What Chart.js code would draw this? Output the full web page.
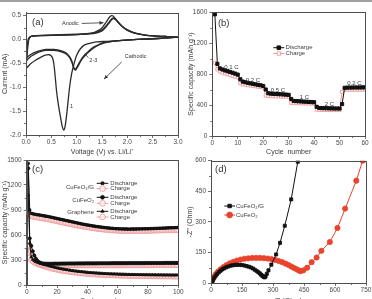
<!DOCTYPE html>
<html><head><meta charset="utf-8">
<script src="https://cdn.jsdelivr.net/npm/chart.js@4.4.1/dist/chart.umd.min.js"></script>
<style>
html,body{margin:0;padding:0;background:#fff;}
body{position:relative;width:372px;height:299px;overflow:hidden;}
canvas{position:absolute;}
#topbar{position:absolute;left:0;top:0;width:372px;height:2px;background:#a0a0a0;}
</style></head>
<body>
<div id="topbar"></div>
<canvas id="pa" width="186" height="160" style="left:0;top:0;width:186px;height:160px"></canvas>
<canvas id="pb" width="186" height="160" style="left:186px;top:0;width:186px;height:160px"></canvas>
<canvas id="pc" width="186" height="160" style="left:0;top:150px;width:186px;height:160px"></canvas>
<canvas id="pd" width="186" height="160" style="left:186px;top:150px;width:186px;height:160px"></canvas>
<script>
// ---------- Panel (a): cyclic voltammetry ----------
const aXTicks = [0.0,0.5,1.0,1.5,2.0,2.5,3.0];
const aYTicks = [-2.0,-1.5,-1.0,-0.5,0.0,0.5];
const cv1V = [3.0,2.6,2.2,1.9,1.6,1.4,1.3,1.15,1.07,1.0,0.95,0.9,0.86,0.83,0.8,0.77,0.745,0.72,0.69,0.66,0.63,0.605,0.58,0.56,0.54,0.51,0.46,0.38,0.28,0.18,0.09,0.0,0.015,0.03,0.05,0.08,0.12,0.2,0.4,0.7,1.0,1.2,1.35,1.45,1.52,1.58,1.63,1.66,1.69,1.72,1.76,1.82,1.9,2.0,2.15,2.35,2.6,2.8,3.0];
const cv1I = [0.05,0.02,0.0,-0.02,-0.04,-0.05,-0.07,-0.12,-0.2,-0.33,-0.5,-0.72,-1.0,-1.3,-1.6,-1.83,-1.9,-1.84,-1.68,-1.5,-1.3,-1.1,-0.82,-0.6,-0.45,-0.36,-0.32,-0.33,-0.38,-0.44,-0.51,-0.6,-0.42,-0.22,-0.03,0.05,0.07,0.08,0.09,0.1,0.11,0.12,0.15,0.2,0.27,0.36,0.44,0.48,0.5,0.49,0.44,0.36,0.27,0.19,0.13,0.09,0.07,0.06,0.05];
const cv23V = [3.0,2.6,2.2,1.9,1.7,1.55,1.45,1.35,1.25,1.17,1.1,1.05,1.01,0.98,0.955,0.93,0.9,0.86,0.8,0.7,0.55,0.4,0.3,0.2,0.1,0.0,0.015,0.03,0.05,0.08,0.12,0.3,0.7,1.0,1.25,1.4,1.5,1.57,1.63,1.68,1.72,1.76,1.82,1.9,2.0,2.15,2.35,2.6,2.8,3.0];
const cv2I = [0.05,0.02,0.0,-0.02,-0.04,-0.07,-0.11,-0.17,-0.25,-0.33,-0.42,-0.51,-0.59,-0.64,-0.63,-0.56,-0.46,-0.38,-0.31,-0.26,-0.23,-0.23,-0.25,-0.29,-0.35,-0.44,-0.3,-0.12,0.01,0.05,0.07,0.08,0.09,0.1,0.12,0.15,0.2,0.27,0.35,0.42,0.45,0.43,0.36,0.27,0.2,0.13,0.09,0.07,0.06,0.05];
const cv3I = [0.05,0.02,0.0,-0.02,-0.04,-0.06,-0.1,-0.15,-0.23,-0.31,-0.4,-0.49,-0.57,-0.62,-0.61,-0.54,-0.44,-0.36,-0.29,-0.24,-0.21,-0.21,-0.23,-0.26,-0.31,-0.38,-0.26,-0.1,0.02,0.05,0.07,0.08,0.09,0.1,0.115,0.14,0.18,0.25,0.33,0.4,0.435,0.425,0.36,0.27,0.2,0.13,0.09,0.07,0.06,0.05];

// ---------- Panel (b): rate capability ----------
const bXTicks = [0,10,20,30,40,50,60];
const bYTicks = [0,400,800,1200,1600];
const bDischarge = [1570,930,872,858,846,836,826,816,805,792,
  732,702,694,686,679,672,666,660,654,646,
  600,552,547,544,542,540,538,536,534,531,
  478,452,450,448,446,444,442,440,438,436,
  377,362,360,359,358,357,356,355,355,354,
  412,622,624,625,625,626,626,626,627,627];
const bCharge = [945,860,832,818,806,796,786,776,766,755,
  680,668,662,656,651,646,641,636,631,626,
  522,516,514,513,512,511,510,509,508,507,
  428,425,424,423,422,421,420,419,419,418,
  340,338,337,337,336,336,335,335,335,335,
  570,596,597,597,598,598,598,599,599,599];

// ---------- Panel (c): cycling of three electrodes ----------
const cXTicks = [0,20,40,60,80,100];
const cYTicks = [0,300,600,900,1200,1500];
const gDis = [1460,900,860,855,850,847,844,841,838,835,
  832,828,825,822,818,814,810,806,802,798,
  794,790,786,782,778,774,770,766,762,758,
  754,750,746,742,738,734,730,727,723,720,
  717,714,711,708,705,702,700,697,695,692,
  690,688,686,684,682,680,679,677,676,675,
  674,673,673,672,672,672,671,671,672,672,
  672,672,673,673,673,674,674,675,675,676,
  676,677,677,678,679,679,680,681,682,683,
  683,684,685,686,687,687,688,689,689,690];
const gChg = [870,845,825,820,816,813,810,807,804,801,
  798,795,792,789,785,781,777,773,769,765,
  761,757,753,749,745,741,738,734,730,727,
  723,719,716,712,709,706,702,699,696,693,
  690,687,684,681,679,676,674,672,669,667,
  665,663,661,660,658,657,655,654,653,652,
  651,650,650,649,649,648,648,648,648,648,
  648,648,648,649,649,649,650,650,650,651,
  651,652,652,653,653,654,654,655,655,656,
  656,657,657,658,658,659,659,660,660,661];
const fDis = [1400,560,470,405,355,318,292,276,266,260,
  257,256,255,255,255,255,255,256,256,256,
  256,256,257,257,257,257,258,258,258,258,
  258,258,259,259,259,259,259,259,260,260,
  260,260,260,260,260,260,261,261,261,261,
  261,261,261,261,261,262,262,262,262,262,
  262,262,262,262,262,262,263,263,263,263,
  263,263,263,263,263,263,263,263,264,264,
  264,264,264,264,264,264,264,264,264,264,
  265,265,265,265,265,265,265,265,265,265];
const fChg = [530,470,405,355,318,292,272,258,250,245,
  242,240,239,238,238,237,237,237,237,237,
  237,237,237,237,236,236,236,236,236,236,
  236,236,236,236,236,236,236,236,236,236,
  236,236,236,236,236,236,236,236,236,236,
  236,236,236,236,236,236,236,236,236,236,
  236,236,236,236,237,237,237,237,237,237,
  237,237,237,237,237,237,237,237,237,237,
  237,237,237,237,238,238,238,238,238,238,
  238,238,238,238,238,238,238,238,238,238];
const rDis = [1080,500,335,305,290,280,272,265,259,254,
  249,244,239,234,229,224,219,214,209,205,
  201,197,193,190,187,184,181,178,175,172,
  169,167,165,163,161,159,157,155,153,151,
  149,148,146,145,144,142,141,140,139,138,
  137,136,135,134,133,132,131,131,130,129,
  129,128,128,127,127,126,126,125,125,125,
  124,124,124,123,123,123,122,122,122,122,
  121,121,121,121,120,120,120,120,120,119,
  119,119,119,119,118,118,118,118,118,118];
const rChg = [470,330,300,282,270,261,253,246,240,234,
  228,222,216,211,206,201,196,192,188,184,
  180,176,173,170,167,164,161,158,156,153,
  151,149,147,145,143,141,139,137,136,134,
  133,131,130,129,127,126,125,124,123,122,
  121,120,119,118,118,117,116,115,115,114,
  113,113,112,112,111,111,110,110,109,109,
  109,108,108,108,107,107,107,106,106,106,
  106,105,105,105,105,104,104,104,104,104,
  103,103,103,103,103,102,102,102,102,102];

// ---------- Panel (d): Nyquist plots ----------
const dXTicks = [0,150,300,450,600,750];
const dYTicks = [0,150,300,450,600];
const gZre = [5,10,16,23,30,38,46,55,64,74,84,95,106,117,128,139,150,161,172,183,193,203,212,221,229,236,242,248,253,257,260,264,270,278,292,315,334,357,388,420];
const gZim = [3,15,26,36,45,53,60,67,72,77,81,85,87,89,89,89,88,86,83,80,76,71,65,59,53,47,41,36,32,29,28,32,45,62,90,140,197,281,410,595];
const fZre = [3,8,15,24,34,46,60,75,91,108,125,143,161,180,199,218,237,256,275,293,311,328,345,361,376,390,403,415,425,433,447,465,487,511,534,575,612,649,703,734];
const fZim = [5,18,31,44,56,67,78,88,97,104,110,115,119,121,123,123,123,122,120,117,113,108,102,95,88,80,73,67,62,58,62,75,102,125,158,201,270,365,502,600];

// ---------- styling ----------
const FF = '"Liberation Sans", Arial, sans-serif';
const TX = '#3c3c3c', AX = '#4f4f4f';
const PINK = '#ef9b9b', RED = '#e8432c', BLK = '#111111';

const xy = (xs, ys) => xs.map((x, i) => ({x: x, y: ys[i]}));
const cyc = arr => arr.map((v, i) => ({x: i + 1, y: v}));

const framePlugin = {
  id: 'frame',
  afterDraw(chart) {
    const {ctx, chartArea: a} = chart;
    ctx.save();
    ctx.strokeStyle = AX; ctx.lineWidth = 1;
    ctx.strokeRect(Math.round(a.left) + 0.5, Math.round(a.top) + 0.5, Math.round(a.right) - Math.round(a.left), Math.round(a.bottom) - Math.round(a.top));
    const xs = chart.scales.x, ys = chart.scales.y;
    ctx.lineWidth = 0.8;
    const xt = xs.ticks.map(t => t.value), yt = ys.ticks.map(t => t.value);
    ctx.beginPath();
    for (let i = 0; i < xt.length - 1; i++) {
      const p = Math.round(xs.getPixelForValue((xt[i] + xt[i + 1]) / 2)) + 0.5;
      ctx.moveTo(p, a.bottom); ctx.lineTo(p, a.bottom + 2);
    }
    for (let i = 0; i < yt.length - 1; i++) {
      const p = Math.round(ys.getPixelForValue((yt[i] + yt[i + 1]) / 2)) + 0.5;
      ctx.moveTo(a.left, p); ctx.lineTo(a.left - 2, p);
    }
    ctx.stroke();
    ctx.restore();
  }
};

const notesPlugin = {
  id: 'notes',
  afterDraw(chart, args, o) {
    const ctx = chart.ctx, xs = chart.scales.x, ys = chart.scales.y;
    ctx.save();
    ctx.strokeStyle = '#333'; ctx.fillStyle = '#333'; ctx.lineWidth = 0.8;
    (o.arrows || []).forEach(a => {
      const x1 = xs.getPixelForValue(a[0]), y1 = ys.getPixelForValue(a[1]);
      const x2 = xs.getPixelForValue(a[2]), y2 = ys.getPixelForValue(a[3]);
      ctx.beginPath(); ctx.moveTo(x1, y1); ctx.lineTo(x2, y2); ctx.stroke();
      if (a[4]) {
        const ang = Math.atan2(y2 - y1, x2 - x1), L = 4, W = 1.8;
        ctx.beginPath();
        ctx.moveTo(x2, y2);
        ctx.lineTo(x2 - L * Math.cos(ang) + W * Math.sin(ang), y2 - L * Math.sin(ang) - W * Math.cos(ang));
        ctx.lineTo(x2 - L * Math.cos(ang) - W * Math.sin(ang), y2 - L * Math.sin(ang) + W * Math.cos(ang));
        ctx.closePath(); ctx.fill();
      }
    });
    (o.items || []).forEach(t => {
      ctx.font = (t.s || 6) + 'px ' + FF;
      ctx.fillStyle = t.c || '#333';
      ctx.textAlign = 'left'; ctx.textBaseline = 'middle';
      ctx.fillText(t.t, xs.getPixelForValue(t.x), ys.getPixelForValue(t.y));
    });
    ctx.restore();
  }
};

const legPlugin = {
  id: 'leg',
  afterDraw(chart, args, o) {
    if (!o.rows) return;
    const ctx = chart.ctx;
    ctx.save();
    o.rows.forEach(r => {
      const ds = chart.data.datasets[r.ds];
      ctx.strokeStyle = ds.borderColor; ctx.lineWidth = ds.borderWidth || 1;
      ctx.beginPath(); ctx.moveTo(o.x1, r.y); ctx.lineTo(o.x2, r.y); ctx.stroke();
      ctx.fillStyle = ds.pointBackgroundColor; ctx.strokeStyle = ds.pointBorderColor;
      ctx.lineWidth = ds.pointBorderWidth || 1;
      Chart.helpers.drawPoint(ctx, {pointStyle: ds.pointStyle, rotation: 0, radius: ds.pointRadius + 0.3, borderWidth: ds.pointBorderWidth || 1}, (o.x1 + o.x2) / 2, r.y);
      ctx.font = (o.size || 6) + 'px ' + FF;
      ctx.fillStyle = TX; ctx.textAlign = 'left'; ctx.textBaseline = 'middle';
      ctx.fillText(ds.label, o.tx, r.y);
    });
    (o.groups || []).forEach(g => {
      ctx.font = (o.size || 6) + 'px ' + FF;
      ctx.fillStyle = TX; ctx.textAlign = 'right'; ctx.textBaseline = 'middle';
      ctx.fillText(g.t, g.x, g.y);
    });
    ctx.restore();
  }
};

function axis(kind, g, min, max, ticks, fmt, title, tpad) {
  const s = {
    type: 'linear', min: min, max: max, offset: false,
    afterBuildTicks: sc => { sc.ticks = ticks.map(v => ({value: v})); },
    grid: {drawOnChartArea: false, drawTicks: true, tickLength: 3, color: AX, lineWidth: 0.8},
    border: {display: true, color: AX, width: 1},
    ticks: {font: {family: FF, size: 6.5}, color: '#4a4a4a', maxRotation: 0, autoSkip: false, callback: fmt},
    title: {display: true, text: title, font: {family: FF, size: 7}, color: TX}
  };
  if (kind === 'x') {
    s.afterFit = sc => { sc.height = g.ch - g.B; };
    s.ticks.padding = 0;
    s.title.padding = {top: 0, bottom: tpad};
  } else {
    s.afterFit = sc => { sc.width = g.L; };
    s.ticks.padding = 2;
    s.title.padding = {top: tpad, bottom: 0};
  }
  return s;
}

function make(id, g, datasets, scales, plugins) {
  return new Chart(document.getElementById(id), {
    type: 'scatter',
    data: {datasets: datasets},
    options: {
      responsive: false, animation: false, events: [],
      layout: {padding: {left: 0, top: g.T, right: g.cw - g.R, bottom: 0}},
      scales: scales,
      plugins: Object.assign({legend: {display: false}, tooltip: {enabled: false}}, plugins)
    },
    plugins: [framePlugin, notesPlugin, legPlugin]
  });
}

const f1 = v => v.toFixed(1);
const f0 = v => String(v);

// ---- (a)
const ga = {cw: 186, ch: 160, L: 26, R: 178, T: 12.7, B: 135};
const cvStyle = {showLine: true, pointRadius: 0, borderColor: '#2b2b2b', borderWidth: 1.3, tension: 0.25, fill: false};
make('pa', ga, [
  Object.assign({label: '1', data: xy(cv1V, cv1I)}, cvStyle),
  Object.assign({label: '2', data: xy(cv23V, cv2I)}, cvStyle),
  Object.assign({label: '3', data: xy(cv23V, cv3I)}, cvStyle)
], {
  x: axis('x', ga, 0, 3, aXTicks, f1, 'Voltage (V) vs. Li/Li\u207A', 3.8),
  y: axis('y', ga, -2, 0.56, aYTicks, f1, 'Current (mA)', 0.8)
}, {
  notes: {
    items: [
      {t: '(a)', x: 0.12, y: 0.35, s: 9.5},
      {t: 'Anodic', x: 0.71, y: 0.33, s: 5.5},
      {t: 'Cathodic', x: 1.95, y: -0.35, s: 5.5},
      {t: '2-3', x: 1.25, y: -0.45, s: 5.5},
      {t: '1', x: 0.87, y: -1.41, s: 5.5}
    ],
    arrows: [[1.1, 0.335, 1.53, 0.35, true], [1.89, -0.47, 1.54, -0.83, true], [1.23, -0.38, 1.16, -0.30, false]]
  }
});

// ---- (b)
const gb = {cw: 186, ch: 160, L: 26.3, R: 179, T: 12, B: 136};
make('pb', gb, [
  {label: 'Discharge', data: cyc(bDischarge), showLine: true, borderColor: BLK, borderWidth: 1, pointStyle: 'rect', pointRadius: 2.2, pointBackgroundColor: BLK, pointBorderColor: BLK, pointBorderWidth: 1, order: 0},
  {label: 'Charge', data: cyc(bCharge), showLine: true, borderColor: PINK, borderWidth: 1, pointStyle: 'rect', pointRadius: 2.2, pointBackgroundColor: '#ffffff', pointBorderColor: PINK, pointBorderWidth: 0.9, order: 1}
], {
  x: axis('x', gb, 0, 60, bXTicks, f0, 'Cycle  number', 3.8),
  y: axis('y', gb, 0, 1600, bYTicks, f0, 'Specific capacity (mAh g\u207B\u00B9)', 0.8)
}, {
  notes: {items: [
    {t: '(b)', x: 2.2, y: 1458, s: 9.5},
    {t: '0.1 C', x: 4.7, y: 892, s: 6},
    {t: '0.2 C', x: 13.1, y: 721, s: 6},
    {t: '0.5 C', x: 23, y: 592, s: 6},
    {t: '1 C', x: 34.4, y: 498, s: 6},
    {t: '2 C', x: 44.2, y: 412, s: 6},
    {t: '0.2 C', x: 53, y: 678, s: 6}
  ]},
  leg: {x1: 87.3, x2: 98.3, tx: 99.5, size: 6, rows: [{ds: 0, y: 47.7}, {ds: 1, y: 53.5}]}
});

// ---- (c)
const gc = {cw: 186, ch: 160, L: 26.7, R: 178.3, T: 10, B: 135};
const disStyle = (st) => ({showLine: true, borderColor: BLK, borderWidth: 1, pointStyle: st, pointRadius: 1.6, pointBackgroundColor: BLK, pointBorderColor: BLK, pointBorderWidth: 0.8, order: 0});
const chgStyle = {showLine: true, borderColor: PINK, borderWidth: 1, pointStyle: 'circle', pointRadius: 2.5, pointBackgroundColor: 'rgba(255,255,255,0.6)', pointBorderColor: PINK, pointBorderWidth: 0.9, order: 1};
make('pc', gc, [
  Object.assign({label: 'Discharge', data: cyc(gDis)}, disStyle('rect')),
  Object.assign({label: 'Charge', data: cyc(gChg)}, chgStyle),
  Object.assign({label: 'Discharge', data: cyc(fDis)}, disStyle('circle')),
  Object.assign({label: 'Charge', data: cyc(fChg)}, chgStyle),
  Object.assign({label: 'Discharge', data: cyc(rDis)}, disStyle('triangle')),
  Object.assign({label: 'Charge', data: cyc(rChg)}, chgStyle)
], {
  x: axis('x', gc, 0, 100, cXTicks, f0, 'Cycle  number', 4.8),
  y: axis('y', gc, 0, 1500, cYTicks, f0, 'Specific capacity (mAh g\u207B\u00B9)', 0.8)
}, {
  notes: {items: [{t: '(c)', x: 3.5, y: 1392, s: 9.5}]},
  leg: {x1: 96.7, x2: 108.3, tx: 110.3, size: 6,
    rows: [{ds: 0, y: 33.3}, {ds: 1, y: 38.6}, {ds: 2, y: 47.3}, {ds: 3, y: 53.3}, {ds: 4, y: 61.3}, {ds: 5, y: 67}],
    groups: [{t: 'CuFeO\u2082/G', x: 94, y: 37}, {t: 'CuFeO\u2082', x: 94, y: 50}, {t: 'Graphene', x: 94, y: 62}]}
});

// ---- (d)
const gd = {cw: 186, ch: 160, L: 25, R: 180, T: 10.7, B: 133};
make('pd', gd, [
  {label: 'CuFeO\u2082/G', data: xy(gZre, gZim), showLine: true, borderColor: BLK, borderWidth: 1, pointStyle: 'rect', pointRadius: 2.2, pointBackgroundColor: BLK, pointBorderColor: BLK, pointBorderWidth: 0.8},
  {label: 'CuFeO\u2082', data: xy(fZre, fZim), showLine: true, borderColor: RED, borderWidth: 1, pointStyle: 'circle', pointRadius: 2.6, pointBackgroundColor: RED, pointBorderColor: RED, pointBorderWidth: 0.8}
], {
  x: axis('x', gd, 0, 750, dXTicks, f0, "Z' (Ohm)", 4.8),
  y: axis('y', gd, 0, 600, dYTicks, f0, "-Z'' (Ohm)", 0)
}, {
  notes: {items: [{t: '(d)', x: 19.5, y: 559, s: 9.5}]},
  leg: {x1: 38.3, x2: 49, tx: 50, size: 6, rows: [{ds: 0, y: 56}, {ds: 1, y: 65}]}
});
</script>
</body></html>
